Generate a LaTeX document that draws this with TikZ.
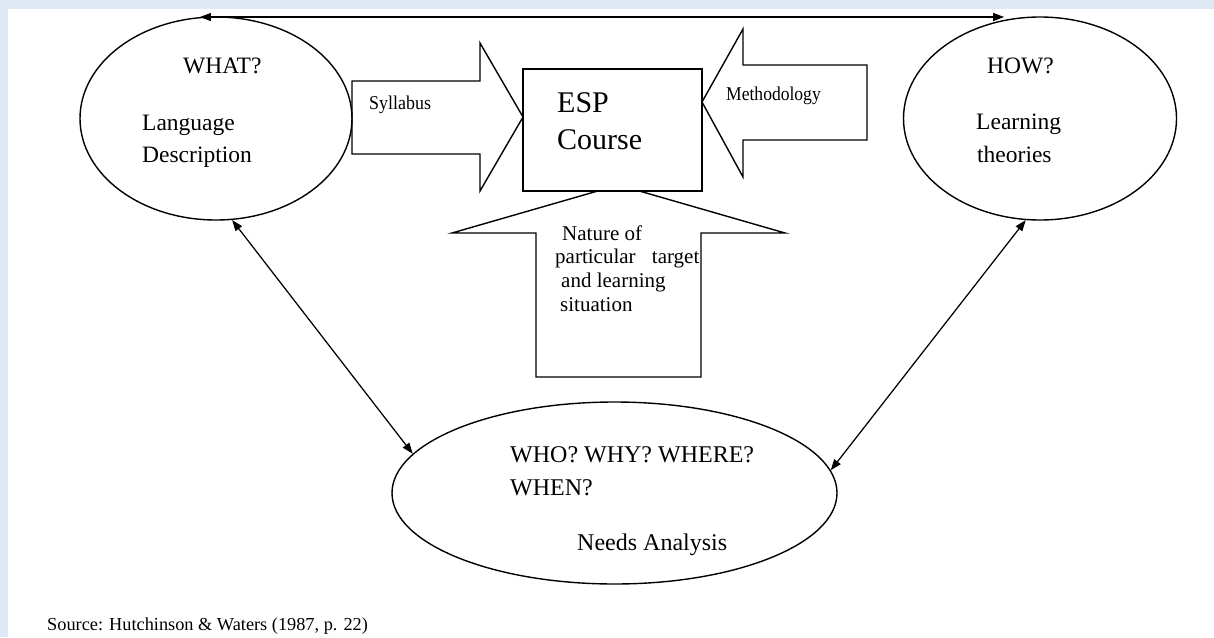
\documentclass[tikz,border=0pt]{standalone}
\usepackage{fontspec}
\setmainfont{Liberation Serif}
\usetikzlibrary{shapes.geometric,arrows.meta}
\definecolor{pagetint}{RGB}{222,233,245}
\begin{document}
\begin{tikzpicture}[x=1pt,y=-1pt,
  ring/.style={draw,ellipse,line width=1.4pt,inner sep=0pt},
  blockarrow/.style={draw,fill=white,line width=1.4pt,line join=miter},
  link/.style={line width=1.25pt,{Triangle[length=11pt,width=8pt]}-{Triangle[length=11pt,width=8pt]}},
  txt/.style={anchor=base west,inner sep=0pt,font=\fontsize{23.5}{28}\selectfont},
  small/.style={anchor=base west,inner sep=0pt,font=\fontsize{19.5}{24}\selectfont},
  mid/.style={anchor=base west,inner sep=0pt,font=\fontsize{21}{25}\selectfont},
  big/.style={anchor=base west,inner sep=0pt,font=\fontsize{30}{36}\selectfont}]
\useasboundingbox (0,0) rectangle (1214,637);
\fill[white] (0,0) rectangle (1214,637);
\fill[pagetint] (0,0) rectangle (1214,9);
\fill[pagetint] (0,0) rectangle (8,637);

% block arrows feeding the course box
\draw[blockarrow] (352,81) -- (480,81) -- (480,43) -- (523,117) -- (480,191) -- (480,154) -- (352,154) -- cycle;
\draw[blockarrow] (867,65) -- (743,65) -- (743,29) -- (702,102) -- (743,177) -- (743,140) -- (867,140) -- cycle;
\draw[blockarrow] (536,377) -- (701,377) -- (701,233) -- (785,233) -- (618.5,185) -- (452,233) -- (536,233) -- cycle;

% central box
\node[draw,fill=white,line width=1.4pt,minimum width=179pt,minimum height=122pt,inner sep=0pt] (esp) at (612.5,130) {};
\node[big] (espa) at (557,112.7) {ESP};
\node[big] (espb) at (557,149) {Course};

% the three ellipses
\node[ring,minimum width=272pt,minimum height=203pt] (what) at (216,118.5) {};
\node[ring,minimum width=273pt,minimum height=203pt] (how) at (1040,118.5) {};
\node[ring,minimum width=445pt,minimum height=182pt] (needs) at (614.5,493) {};

% two-way links
\draw[link] (what.99) -- (what.99 -| how.110);
\draw[link] (what.-81) -- (needs.169);
\draw[link] (how.-98) -- (needs.6);

% labels
\node[txt] (whatq) at (183,73) {WHAT?};
\node[txt] (lang) at (142,130) {Language};
\node[txt] (desc) at (142,162) {Description};
\node[txt] (howq) at (987,73) {HOW?};
\node[txt] (learn) at (976,129) {Learning};
\node[txt] (theo) at (977,162) {theories};

\node[small] (syl) at (369,109) {\scalebox{0.92}[1]{Syllabus}};
\node[small] (meth) at (726,100.7) {\scalebox{0.9}[1]{Methodology}};

\node[mid] (nat1) at (562,240) {Nature of};
\node[mid] (nat2) at (555,263) {particular\hspace{11pt} target};
\node[mid] (nat3) at (561,287) {and learning};
\node[mid] (nat4) at (560,311) {situation};

\node[txt,font=\fontsize{24}{28}\selectfont] (who) at (510,462) {WHO? WHY? WHERE?};
\node[txt,font=\fontsize{24}{28}\selectfont] (when) at (510,495) {WHEN?};
\node[txt,font=\fontsize{24}{28}\selectfont] (na) at (577,550) {Needs Analysis};

\node[txt,font=\fontsize{18.3}{22}\selectfont] (src) at (47,630) {Source: Hutchinson \& Waters (1987, p. 22)};
\end{tikzpicture}
\end{document}
